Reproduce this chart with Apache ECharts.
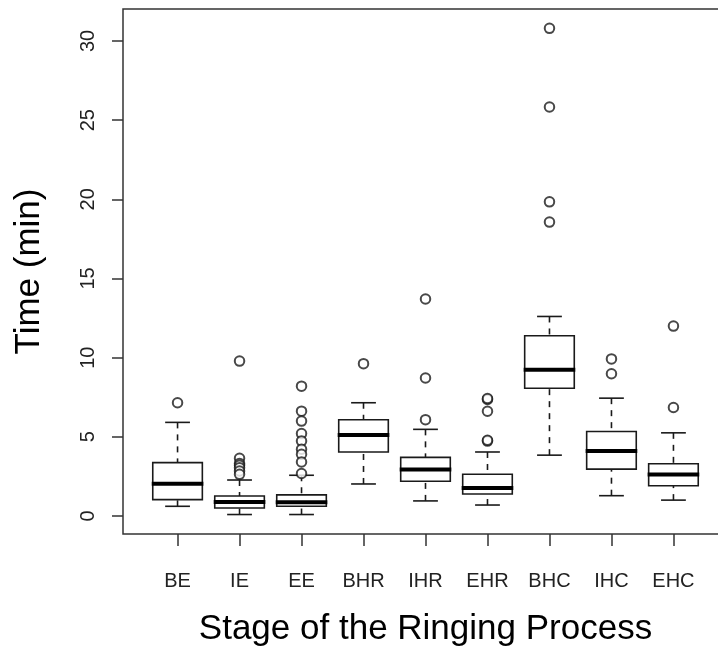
<!DOCTYPE html>
<html>
<head>
<meta charset="utf-8">
<title>Time per stage of the ringing process</title>
<script src="https://cdn.jsdelivr.net/npm/echarts@6/dist/echarts.min.js"></script>
<style>
  html, body { margin: 0; padding: 0; background: #fff; }
  #chart { width: 718px; height: 648px; }
</style>
</head>
<body>
<div id="chart"></div>
<script>
// Stages of the ringing process (x categories)
const stages = ['BE', 'IE', 'EE', 'BHR', 'IHR', 'EHR', 'BHC', 'IHC', 'EHC'];

// Five-number summaries per stage (minutes)
const whiskerLow  = [0.61, 0.09, 0.09, 2.02, 0.95, 0.69, 3.84, 1.28, 1.00];
const lowerQuart  = [1.03, 0.50, 0.61, 4.04, 2.19, 1.39, 8.07, 2.96, 1.91];
const medians     = [2.04, 0.88, 0.86, 5.11, 2.93, 1.77, 9.23, 4.10, 2.62];
const upperQuart  = [3.37, 1.26, 1.33, 6.08, 3.70, 2.63, 11.38, 5.33, 3.30];
const whiskerHigh = [5.91, 2.27, 2.57, 7.15, 5.47, 4.04, 12.60, 7.44, 5.25];

// Outlying observations per stage
const outliers = [
  [7.15],
  [9.78, 3.64, 3.32, 3.20, 3.05, 2.84, 2.63],
  [8.20, 6.62, 5.99, 5.20, 4.73, 4.21, 3.89, 3.41, 2.68],
  [9.62],
  [6.08, 8.71, 13.70],
  [4.73, 4.78, 6.61, 7.36, 7.42],
  [18.56, 19.84, 25.83, 30.80],
  [8.98, 9.92],
  [6.85, 11.99]
];

// Axis tick values
const yTicks = [0, 5, 10, 15, 20, 25, 30];
const xTicks = stages.map((s, i) => i + 1);

const boxData = stages.map((s, i) => [i + 1, whiskerLow[i], lowerQuart[i], medians[i], upperQuart[i], whiskerHigh[i]]);
const outlierData = [];
outliers.forEach((vals, i) => vals.forEach(v => outlierData.push([i + 1, v])));

const INK = '#1a1a1a';
const FONT = '"Liberation Sans", Arial, sans-serif';

function renderBox(params, api) {
  const x = api.value(0);
  const lo = api.coord([x, api.value(1)]);
  const q1 = api.coord([x, api.value(2)]);
  const med = api.coord([x, api.value(3)]);
  const q3 = api.coord([x, api.value(4)]);
  const hi = api.coord([x, api.value(5)]);
  const half = api.size([0.4, 0])[0];
  const cap = api.size([0.2, 0])[0];
  const cx = lo[0];
  const solid = { stroke: INK, lineWidth: 1.6, fill: null };
  const dashed = { stroke: INK, lineWidth: 1.6, lineDash: [6, 6], fill: null };
  return {
    type: 'group',
    children: [
      { type: 'line', shape: { x1: cx, y1: hi[1], x2: cx, y2: q3[1] }, style: dashed },
      { type: 'line', shape: { x1: cx, y1: lo[1], x2: cx, y2: q1[1] }, style: dashed },
      { type: 'line', shape: { x1: cx - cap, y1: hi[1], x2: cx + cap, y2: hi[1] }, style: solid },
      { type: 'line', shape: { x1: cx - cap, y1: lo[1], x2: cx + cap, y2: lo[1] }, style: solid },
      { type: 'rect', shape: { x: cx - half, y: q3[1], width: 2 * half, height: q1[1] - q3[1] },
        style: { stroke: INK, lineWidth: 1.6, fill: '#fff' } },
      { type: 'line', shape: { x1: cx - half - 1, y1: med[1], x2: cx + half + 1, y2: med[1] },
        style: { stroke: '#000', lineWidth: 4, fill: null } }
    ]
  };
}

const chart = echarts.init(document.getElementById('chart'), null, { renderer: 'canvas' });
chart.setOption({
  animation: false,
  backgroundColor: '#fff',
  grid: {
    left: 123, right: -10, top: 9, bottom: 114,
    outerBoundsMode: 'none',
    containLabel: false,
    show: true, borderColor: '#333', borderWidth: 1.5, backgroundColor: 'transparent'
  },
  xAxis: {
    type: 'value',
    min: 0.12, max: 9.88,
    splitLine: { show: false },
    axisLine: { show: false, onZero: false },
    axisTick: { show: true, customValues: xTicks, length: 12, lineStyle: { color: '#333', width: 1.5 } },
    axisLabel: {
      show: true, customValues: xTicks, margin: 37,
      formatter: v => stages[Math.round(v) - 1] || '',
      fontSize: 20, color: '#222', fontFamily: FONT
    },
    name: 'Stage of the Ringing Process',
    nameLocation: 'middle', nameGap: 78,
    nameTextStyle: { fontSize: 35, color: '#000', fontFamily: FONT }
  },
  yAxis: {
    type: 'value',
    min: -1.14, max: 32.02,
    splitLine: { show: false },
    axisLine: { show: false, onZero: false },
    axisTick: { show: true, customValues: yTicks, length: 11, lineStyle: { color: '#333', width: 1.5 } },
    axisLabel: {
      show: true, customValues: yTicks, rotate: 90, margin: 25,
      fontSize: 20, color: '#222', fontFamily: FONT
    },
    name: 'Time (min)',
    nameLocation: 'middle', nameRotate: 90, nameGap: 76,
    nameTextStyle: { fontSize: 35, color: '#000', fontFamily: FONT }
  },
  series: [
    {
      type: 'custom',
      name: 'Stages',
      renderItem: renderBox,
      encode: { x: 0, y: [1, 2, 3, 4, 5] },
      data: boxData,
      clip: false
    },
    {
      type: 'scatter',
      name: 'Outliers',
      symbol: 'emptyCircle',
      symbolSize: 9.5,
      itemStyle: { color: INK, borderColor: INK, borderWidth: 1.3 },
      data: outlierData,
      z: 3
    }
  ]
});
</script>
</body>
</html>
